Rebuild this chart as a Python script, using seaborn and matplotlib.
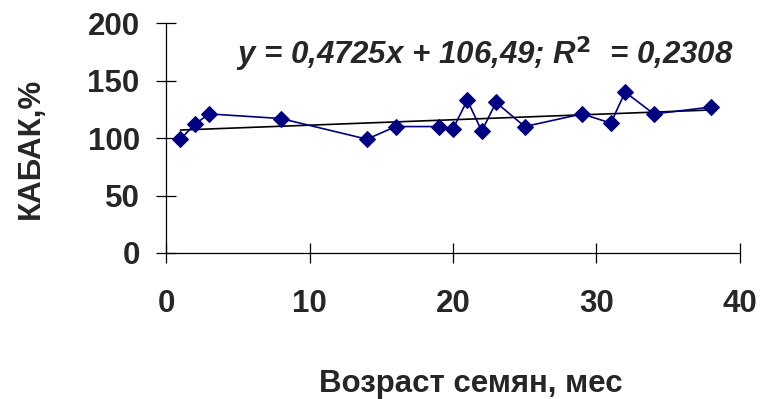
import numpy as np
import pandas as pd
import matplotlib
matplotlib.use("Agg")
import matplotlib.pyplot as plt
import seaborn as sns

# seed age (months) vs. germination-related index for zucchini
age_months = [1, 2, 3, 8, 14, 16, 19, 20, 21, 22, 23, 25, 29, 31, 32, 34, 38]
kabak_pct = [99, 112, 121, 117, 99, 110, 110, 108, 133, 106, 131, 110, 121, 113, 140, 121, 127]

# trend line from the chart annotation
slope = 0.4725
intercept = 106.49
r2_text = "0,2308"

x_ticks = [0, 10, 20, 30, 40]
y_ticks = [0, 50, 100, 150, 200]

df = pd.DataFrame({"age": age_months, "kabak": kabak_pct})

sns.set_theme(style="white")
plt.rcParams["font.family"] = ["Liberation Sans", "DejaVu Sans"]
plt.rcParams["font.weight"] = "bold"

fig = plt.figure(figsize=(7.62, 3.99), dpi=100)
ax = fig.add_axes([0.218, 0.366, 0.753, 0.576])

sns.lineplot(data=df, x="age", y="kabak", ax=ax, color="#000080",
             linewidth=1.2, marker="D", markersize=8.5,
             markeredgecolor="#000080", zorder=3)

trend_x = np.array([min(age_months), max(age_months)])
sns.lineplot(x=trend_x, y=slope * trend_x + intercept, ax=ax,
             color="black", linewidth=1.2, zorder=2)

ax.text(4.9, 173, "y = 0,4725x + 106,49; R$^{2}$  = " + r2_text,
        fontsize=22.5, fontweight="bold", style="italic", va="center")

ax.set_xlim(0, 40)
ax.set_ylim(0, 200)
ax.set_xticks(x_ticks)
ax.set_yticks(y_ticks)
ax.tick_params(bottom=True, left=True, direction="inout", length=14,
               width=0.9, color="black", labelsize=22.5)
ax.tick_params(axis="y", pad=12)
ax.tick_params(axis="x", pad=19)
for lbl in ax.get_xticklabels() + ax.get_yticklabels():
    lbl.set_fontweight("bold")

for s in ["top", "right"]:
    ax.spines[s].set_visible(False)
for s in ["left", "bottom"]:
    ax.spines[s].set_color("black")
    ax.spines[s].set_linewidth(0.9)

ax.set_xlabel("Возраст семян, мес", fontsize=22.5, fontweight="bold", labelpad=36)
ax.set_ylabel("КАБАК,%", fontsize=22.5, fontweight="bold", labelpad=30)
ax.xaxis.label.set_x(0.531)
ax.yaxis.label.set_y(0.457)

fig.savefig("out.png", dpi=100)
